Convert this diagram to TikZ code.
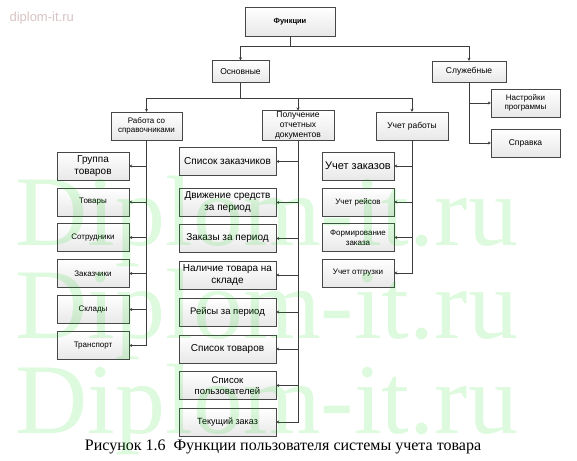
\documentclass[tikz,border=0pt]{standalone}
\usepackage{fontspec}
\setmainfont{Liberation Serif}
\setsansfont{Liberation Sans}
\usetikzlibrary{arrows.meta}

\definecolor{wmgreen}{RGB}{0,215,0}
\definecolor{wmpink}{RGB}{215,195,195}
\definecolor{lncol}{RGB}{60,60,60}

\tikzset{
    blk/.style={draw=black!72, top color=white, bottom color=black!9, minimum width=72pt,
        minimum height=28pt, inner sep=1pt, align=center,
        font=\sffamily\fontsize{8}{9.6}\selectfont},
    lnk/.style={draw=lncol, line width=0.9pt},
}

\begin{document}
\begin{tikzpicture}[x=1pt,y=-1pt,>={Stealth[length=3pt,width=3pt]}]
    \useasboundingbox (0,0) rectangle (577,460);
    \node[font=\sffamily\fontsize{13}{15}\selectfont, text=wmpink, anchor=west] (wm0) at (6,18) {diplom-it.ru};
    % верхние уровни
    \node[blk,minimum width=90pt,minimum height=29pt,font=\sffamily\bfseries\fontsize{7.5}{9}\selectfont] (fun) at (290,21.5) {Функции};
    \node[blk,minimum width=57pt,minimum height=22pt,font=\sffamily\fontsize{8.5}{10}\selectfont] (osn) at (240.5,71.5) {Основные};
    \node[blk,minimum width=74pt,minimum height=21pt,font=\sffamily\fontsize{8.5}{10}\selectfont] (sl) at (469,71.5) {Служебные};
    \node[blk,minimum width=71pt] (rab) at (146.5,126) {Работа со\\справочниками};
    \node[blk,minimum height=29pt,font=\sffamily\fontsize{8.5}{10}\selectfont] (pol) at (298,125.5) {Получение\\отчетных\\документов};
    \node[blk,font=\sffamily\fontsize{8.5}{10}\selectfont] (urab) at (412,126) {Учет работы};
    \node[blk,minimum width=69pt] (nas) at (525.5,103) {Настройки\\программы};
    \node[blk,minimum width=69pt,font=\sffamily\fontsize{8.5}{10}\selectfont] (spr) at (525.5,143) {Справка};
    \draw[lnk,->] (fun.south) -- ++(0,10) -| (osn.north);
    \draw[lnk,->] (fun.south) -- ++(0,10) -| (sl.north);
    \draw[lnk,->] (osn.south) -- ++(0,16) -| (rab.north);
    \draw[lnk,->] (osn.south) -- ++(0,16) -| (pol.north);
    \draw[lnk,->] (osn.south) -- ++(0,16) -| (urab.north);
    \draw[lnk,->] (sl.south) |- (nas.west);
    \draw[lnk,->] (sl.south) |- (spr.west);
    % справочники
    \foreach \n/\y/\t/\fs/\bs in {gr/166/{Группа\\товаров}/10/12,tov/202/Товары/8/10,
        sotr/237.5/Сотрудники/8/10,zak/273.5/Заказчики/8/10,skl/309.5/Склады/8/10,
        tr/345.5/Транспорт/8/10}{
        \node[blk,font=\sffamily\fontsize{\fs}{\bs}\selectfont] (\n) at (93,\y) {\t};
        \draw[lnk,->] (rab.south) |- (\n.east);
    }
    % отчетные документы
    \foreach \n/\y/\t/\fs/\bs in {sz/161.5/Список заказчиков/10/12,dv/202.5/{Движение средств\\за период}/10/12,
        zp/238.5/Заказы за период/10/12,nal/275/{Наличие товара на\\складе}/10/12,
        rp/312/Рейсы за период/9.5/12,st/349/Список товаров/10/12,
        sp/385.5/{Список\\пользователей}/9.5/11.5,tz/422/Текущий заказ/9/11}{
        \node[blk,minimum width=97pt,font=\sffamily\fontsize{\fs}{\bs}\selectfont] (\n) at (227.5,\y) {\t};
        \draw[lnk,->] (pol.south) |- (\n.east);
    }
    % учет работы
    \foreach \n/\y/\t/\fs/\bs in {uz/166/Учет заказов/11/13,ur/202/Учет рейсов/8/10,
        fz/237.5/{Формирование\\заказа}/8/10,uo/273/Учет отгрузки/8/10}{
        \node[blk,font=\sffamily\fontsize{\fs}{\bs}\selectfont] (\n) at (358,\y) {\t};
        \draw[lnk,->] (urab.south) |- (\n.east);
    }
    \node[font=\fontsize{16}{19}\selectfont] (cap) at (283,447) {Рисунок 1.6\ \ Функции пользователя системы учета товара};
    % водяные знаки
    \foreach \n/\y in {wm1/245,wm2/338,wm3/433}{
        \node[font=\fontsize{100}{100}\selectfont, text=wmgreen, text opacity=0.13, anchor=base west, inner sep=0pt] (\n) at (15,\y) {Diplom-it.ru};
    }
\end{tikzpicture}
\end{document}
